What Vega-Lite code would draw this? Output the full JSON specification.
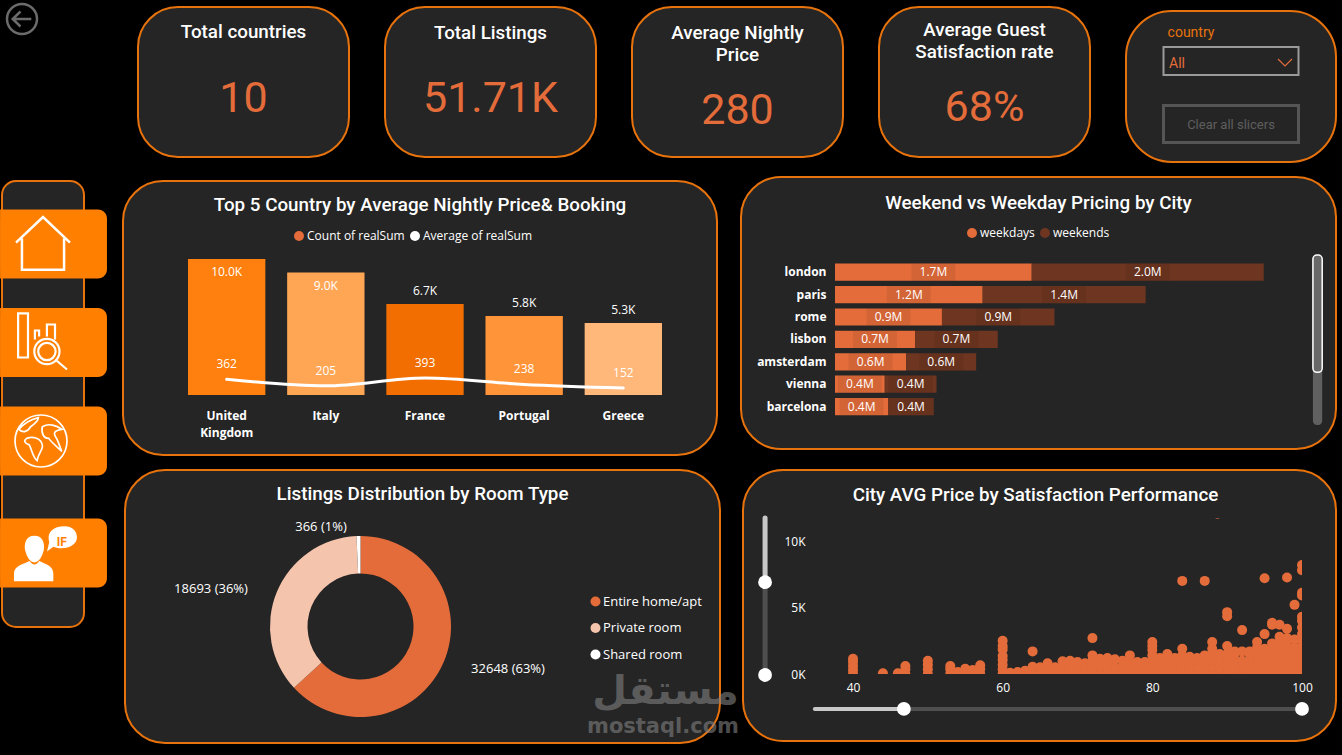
{
"$schema":"https://vega.github.io/schema/vega-lite/v6.json",
"background":"#000000",
"padding":{"left":-1,"top":-1,"right":5,"bottom":11},
"resolve":{"scale":{"color":"independent","fill":"independent"},"legend":{"color":"independent","fill":"independent"}},
"config":{
 "font":"Open Sans",
 "concat":{"spacing":0},
 "title":{"color":"#FFFFFF","font":"Roboto","fontSize":18.8,"fontWeight":500,"anchor":"middle"},
 "axis":{"domain":false,"ticks":false,"grid":false,"title":null,"labelColor":"#FFFFFF","labelFont":"Open Sans","labelFontSize":12,"labelPadding":0},
 "legend":{"title":null,"labelColor":"#FFFFFF","labelFont":"Open Sans","labelFontSize":12,"symbolType":"circle","symbolSize":100,"symbolStrokeWidth":0,"symbolOpacity":1},
 "text":{"color":"#FFFFFF","font":"Open Sans","fontSize":12},
 "view":{"fill":"#252525","stroke":"#E8730C","strokeWidth":2,"cornerRadius":40}
},
"vconcat":[
{"spacing":34,"hconcat":[
 {"width":101,"height":150,"view":{"fill":null,"stroke":null},"data":{"values":[{"icon":"back"}]},
  "mark":{"type":"point","shape":"M1,0A1,1 0 1 1 -1,0A1,1 0 1 1 1,0Z M.62,0H-.62 M-.1,-.5L-.62,0L-.1,.5","size":900,"filled":false,"color":"#6B6B6B","strokeWidth":2.5,"opacity":1,"xOffset":-30.5,"yOffset":-63}},
 {"width":211,"height":150,"data":{"values":[{"metric":"Total countries","value":"10"}]},
  "encoding":{"x":{"datum":0.5,"axis":null,"scale":{"domain":[0,1],"nice":false}},"y":{"datum":0.5,"axis":null,"scale":{"domain":[0,1],"nice":false}}},"layer":[
  {"mark":{"type":"text","font":"Roboto","fontSize":18.8,"fontWeight":500,"dy":-50},"encoding":{"text":{"field":"metric"}}},
  {"mark":{"type":"text","font":"Roboto","fontSize":43,"color":"#E46C3A","dy":17},"encoding":{"text":{"field":"value"}}}]},
 {"width":211,"height":150,"data":{"values":[{"metric":"Total Listings","value":"51.71K"}]},
  "encoding":{"x":{"datum":0.5,"axis":null,"scale":{"domain":[0,1],"nice":false}},"y":{"datum":0.5,"axis":null,"scale":{"domain":[0,1],"nice":false}}},"layer":[
  {"mark":{"type":"text","font":"Roboto","fontSize":18.8,"fontWeight":500,"dy":-49},"encoding":{"text":{"field":"metric"}}},
  {"mark":{"type":"text","font":"Roboto","fontSize":43,"color":"#E46C3A","dy":17},"encoding":{"text":{"field":"value"}}}]},
 {"width":211,"height":150,"data":{"values":[{"metric":"Average Nightly\nPrice","value":"280"}]},
  "encoding":{"x":{"datum":0.5,"axis":null,"scale":{"domain":[0,1],"nice":false}},"y":{"datum":0.5,"axis":null,"scale":{"domain":[0,1],"nice":false}}},"layer":[
  {"mark":{"type":"text","font":"Roboto","fontSize":18.8,"fontWeight":500,"dy":-49,"lineBreak":"\n","lineHeight":22},"encoding":{"text":{"field":"metric"}}},
  {"mark":{"type":"text","font":"Roboto","fontSize":43,"color":"#E46C3A","dy":29},"encoding":{"text":{"field":"value"}}}]},
 {"width":211,"height":150,"data":{"values":[{"metric":"Average Guest\nSatisfaction rate","value":"68%"}]},
  "encoding":{"x":{"datum":0.5,"axis":null,"scale":{"domain":[0,1],"nice":false}},"y":{"datum":0.5,"axis":null,"scale":{"domain":[0,1],"nice":false}}},"layer":[
  {"mark":{"type":"text","font":"Roboto","fontSize":18.8,"fontWeight":500,"dy":-52,"lineBreak":"\n","lineHeight":22},"encoding":{"text":{"field":"metric"}}},
  {"mark":{"type":"text","font":"Roboto","fontSize":43,"color":"#E46C3A","dy":26},"encoding":{"text":{"field":"value"}}}]},
 {"spacing":0,"vconcat":[
  {"width":1,"height":3,"view":{"fill":null,"stroke":null},"data":{"values":[{"gap":1}]},"mark":{"type":"point","size":0,"strokeWidth":0}},
  {"width":210,"height":151,"view":{"cornerRadius":46},"data":{"values":[{"label":"country","selected":"All","button":"Clear all slicers"}]},
   "encoding":{"x":{"datum":0.5,"axis":null,"scale":{"domain":[0,1],"nice":false}},"y":{"datum":0.5,"axis":null,"scale":{"domain":[0,1],"nice":false}}},"layer":[
   {"mark":{"type":"text","font":"Roboto","fontSize":14,"color":"#E8730C","dx":-40,"dy":-54},"encoding":{"text":{"field":"label"}}},
   {"mark":{"type":"point","shape":"M-1,-.207H1V.207H-1Z","size":18225,"filled":false,"color":"#9A9A9A","strokeWidth":2,"opacity":1,"yOffset":-25.5}},
   {"mark":{"type":"text","font":"Roboto","fontSize":14,"color":"#E46C3A","dx":-54,"dy":-23},"encoding":{"text":{"field":"selected"}}},
   {"mark":{"type":"point","shape":"M-1,-.5L0,.5L1,-.5","size":196,"filled":false,"color":"#E46C3A","strokeWidth":1.2,"opacity":1,"xOffset":54,"yOffset":-24}},
   {"mark":{"type":"point","shape":"M-1,-.274H1V.274H-1Z","size":18225,"filled":false,"color":"#555555","strokeWidth":3,"opacity":1,"yOffset":37.5}},
   {"mark":{"type":"text","font":"Roboto","fontSize":13,"color":"#5E5E5E","dy":38},"encoding":{"text":{"field":"button"}}}]}
 ]}
]},
{"width":1,"height":13,"view":{"fill":null,"stroke":null},"data":{"values":[{"gap":1}]},"mark":{"type":"point","size":0,"strokeWidth":0}},
{"spacing":0,"resolve":{"scale":{"color":"independent","fill":"independent"},"legend":{"color":"independent","fill":"independent"}},"hconcat":[
 {"spacing":0,"resolve":{"scale":{"color":"independent","fill":"independent"},"legend":{"color":"independent","fill":"independent"}},"hconcat":[
 {"spacing":0,"vconcat":[
  {"width":1,"height":3,"view":{"fill":null,"stroke":null},"data":{"values":[{"gap":1}]},"mark":{"type":"point","size":0,"strokeWidth":0}},
  {"width":82,"height":446,"view":{"cornerRadius":14},
   "data":{"values":[{"tab":"home"},{"tab":"analysis"},{"tab":"map"},{"tab":"profile"}]},
   "encoding":{"y":{"field":"tab","type":"nominal","axis":null,"sort":null,"scale":{"domain":["home","analysis","map","profile"],"range":[13.75,407.75],"paddingInner":0.3,"paddingOuter":0.15}}},
   "layer":[
    {"transform":[{"filter":"datum.tab !== 'profile'"}],"mark":{"type":"bar","color":"#FF7F00","cornerRadiusTopRight":9,"cornerRadiusBottomRight":9},
     "encoding":{"x":{"datum":1.28,"scale":{"domain":[0,1],"nice":false},"axis":null},"x2":{"datum":-0.024}}},
    {"transform":[{"filter":"datum.tab === 'profile'"}],"mark":{"type":"bar","color":"#FF7F00","cornerRadiusTopRight":9,"cornerRadiusBottomRight":9,"yOffset":13.5},
     "encoding":{"x":{"datum":1.28},"x2":{"datum":-0.024}}},
    {"transform":[{"filter":"datum.tab === 'home'"}],"mark":{"type":"point","shape":"M-1,-.05L0,-1L1,-.05M-.78,-.2V.95H.78V-.2","size":2916,"filled":false,"color":"#FFFFFF","strokeWidth":2.5,"opacity":1},
     "encoding":{"x":{"datum":0.5}}},
    {"transform":[{"filter":"datum.tab === 'analysis'"}],"mark":{"type":"point","shape":"M-.83,-.97H-.5V.5H-.83ZM-.27,-.1V-.4H-.13V-.2M.13,-.2V-.6H.4V-.1M.55,.3A.42,.42 0 1 1 -.29,.3A.42,.42 0 1 1 .55,.3ZM.42,.3A.29,.29 0 1 1 -.16,.3A.29,.29 0 1 1 .42,.3ZM.45,.6L.8,.9","size":3600,"filled":false,"color":"#FFFFFF","strokeWidth":2.2,"opacity":1},
     "encoding":{"x":{"datum":0.5}}},
    {"transform":[{"filter":"datum.tab === 'map'"}],"mark":{"type":"point","shape":"M1,0A1,1 0 1 1 -1,0A1,1 0 1 1 1,0ZM-.55,-.1C-.3,-.2 0,-.1 .05,.15C.1,.3 -.1,.45 -.15,.75C-.3,.65 -.35,.35 -.45,.15C-.6,.1 -.7,0 -.55,-.1ZM-.85,-.45C-.6,-.75 -.3,-.85 -.1,-.9C-.1,-.75 -.25,-.65 -.4,-.55C-.5,-.35 -.7,-.3 -.85,-.45ZM.05,-.55C.3,-.7 .6,-.6 .8,-.45C.5,-.4 .45,-.3 .6,-.1C.7,.1 .75,.3 .8,.4C.6,.2 .4,.05 .3,-.1C.1,-.1 0,-.3 .05,-.55Z","size":2704,"filled":false,"color":"#FFFFFF","strokeWidth":1.7,"opacity":1,"xOffset":-2},
     "encoding":{"x":{"datum":0.5}}},
    {"transform":[{"filter":"datum.tab === 'profile'"}],"mark":{"type":"point","shape":"M-.35,-.55C-.1,-.55 -.02,-.35 -.05,-.1C-.1,.1 -.2,.3 -.35,.3C-.5,.3 -.6,.1 -.65,-.1C-.68,-.35 -.6,-.55 -.35,-.55ZM-1,.9V.65C-1,.4 -.7,.35 -.5,.25C-.4,.4 -.3,.4 -.2,.25C0,.35 .25,.4 .25,.65V.9ZM.6,-.85C.9,-.85 1,-.65 1,-.5C1,-.3 .8,-.15 .5,-.15C.4,-.15 .3,-.18 .25,-.2L.05,-.05L.12,-.35C.1,-.4 .1,-.45 .1,-.5C.1,-.7 .3,-.85 .6,-.85Z","size":3969,"filled":true,"color":"#FFFFFF","strokeWidth":0,"opacity":1,"yOffset":13.5},
     "encoding":{"x":{"datum":0.53}}},
    {"transform":[{"filter":"datum.tab === 'profile'"}],"mark":{"type":"text","text":"IF","font":"Roboto","fontSize":12,"fontWeight":"bold","color":"#FF7F00","dy":2.5},
     "encoding":{"x":{"datum":0.73}}}
   ]}
 ]},
 {"width":14,"height":1,"view":{"fill":null,"stroke":null},"data":{"values":[{"gap":1}]},"mark":{"type":"point","size":0,"strokeWidth":0}},
 {"spacing":0,"resolve":{"scale":{"color":"independent","fill":"independent"},"legend":{"color":"independent","fill":"independent"}},"vconcat":[
  {"width":1,"height":3,"view":{"fill":null,"stroke":null},"data":{"values":[{"gap":1}]},"mark":{"type":"point","size":0,"strokeWidth":0}},
  {"width":594,"height":274,
   "title":{"text":"Top 5 Country by Average Nightly Price& Booking","offset":-34},
   "data":{"values":[
    {"country":"United Kingdom","count":10000,"countLabel":"10.0K","avg":362},
    {"country":"Italy","count":9000,"countLabel":"9.0K","avg":205},
    {"country":"France","count":6700,"countLabel":"6.7K","avg":393},
    {"country":"Portugal","count":5800,"countLabel":"5.8K","avg":238},
    {"country":"Greece","count":5300,"countLabel":"5.3K","avg":152}]},
   "encoding":{"x":{"field":"country","type":"nominal","sort":null,"scale":{"domain":["United Kingdom","Italy","France","Portugal","Greece"],"range":[65,539],"paddingInner":0.22,"paddingOuter":0},
     "axis":{"orient":"bottom","offset":-45,"labelAngle":0,"labelFontWeight":"bold","labelExpr":"split(datum.label,' ')","labelLineHeight":17,"labelBaseline":"top","labelOverlap":false}}},
   "resolve":{"scale":{"y":"independent"}},
   "layer":[
    {"encoding":{"y":{"field":"count","type":"quantitative","axis":null,"scale":{"domain":[0,10000],"range":[214,78],"nice":false}}},
     "layer":[
      {"mark":{"type":"bar"},"encoding":{"color":{"field":"country","legend":null,"sort":null,"scale":{"domain":["United Kingdom","Italy","France","Portugal","Greece"],"range":["#FF800E","#FFA655","#F26E00","#FF9438","#FFB77A"]}}}},
      {"transform":[{"filter":"datum.count >= 9000"}],"mark":{"type":"text","dy":13},"encoding":{"text":{"field":"countLabel"}}},
      {"transform":[{"filter":"datum.count < 9000"}],"mark":{"type":"text","dy":-13},"encoding":{"text":{"field":"countLabel"}}}
     ]},
    {"encoding":{"y":{"field":"avg","type":"quantitative","axis":null,"scale":{"domain":[0,393],"range":[213.3,197],"nice":false}}},
     "layer":[
      {"mark":{"type":"line","color":"#FFFFFF","strokeWidth":3,"interpolate":"monotone","strokeCap":"round"}},
      {"mark":{"type":"text","dy":-15},"encoding":{"text":{"field":"avg"}}}
     ]},
    {"data":{"values":[{"series":"Count of realSum"},{"series":"Average of realSum"}]},
     "mark":{"type":"circle","size":0},
     "encoding":{"fill":{"field":"series","sort":null,"scale":{"domain":["Count of realSum","Average of realSum"],"range":["#E46C3A","#FFFFFF"]},
      "legend":{"orient":"none","legendX":170,"legendY":49,"direction":"horizontal","columnPadding":4,"symbolOffset":0,"labelOffset":2}}}}
   ]},
  {"width":1,"height":13,"view":{"fill":null,"stroke":null},"data":{"values":[{"gap":1}]},"mark":{"type":"point","size":0,"strokeWidth":0}},
  {"spacing":0,"resolve":{"scale":{"color":"independent","fill":"independent"},"legend":{"color":"independent","fill":"independent"}},"hconcat":[
   {"width":1,"height":1,"view":{"fill":null,"stroke":null},"data":{"values":[{"gap":1}]},"mark":{"type":"point","size":0,"strokeWidth":0}},
   {"width":595,"height":273,
    "title":{"text":"Listings Distribution by Room Type","offset":-34},
    "data":{"values":[
     {"room":"Entire home/apt","listings":32648,"label":"32648 (63%)"},
     {"room":"Private room","listings":18693,"label":"18693 (36%)"},
     {"room":"Shared room","listings":366,"label":"366 (1%)"}]},
    "encoding":{"x":{"datum":0.5,"axis":null,"scale":{"domain":[0,1],"nice":false}},"y":{"datum":0.5,"axis":null,"scale":{"domain":[0,1],"nice":false}}},
    "layer":[
     {"mark":{"type":"arc","innerRadius":53,"outerRadius":90.5,"xOffset":-62,"yOffset":20},
      "encoding":{"theta":{"field":"listings","type":"quantitative","stack":true},
       "color":{"field":"room","sort":null,"scale":{"domain":["Entire home/apt","Private room","Shared room"],"range":["#E46C3A","#F5C4AC","#FFFFFF"]},
        "legend":{"orient":"none","legendX":464,"legendY":125,"rowPadding":12.5,"labelFontSize":13,"labelOffset":1}}}},
     {"transform":[{"filter":"datum.room === 'Entire home/apt'"}],"mark":{"type":"text","fontSize":13,"dx":85.5,"dy":62.5},"encoding":{"text":{"field":"label"}}},
     {"transform":[{"filter":"datum.room === 'Private room'"}],"mark":{"type":"text","fontSize":13,"dx":-211.5,"dy":-17.5},"encoding":{"text":{"field":"label"}}},
     {"transform":[{"filter":"datum.room === 'Shared room'"}],"mark":{"type":"text","fontSize":13,"dx":-101.5,"dy":-80},"encoding":{"text":{"field":"label"}}},
     {"data":{"values":[{"mark":"مستقل"}]},"mark":{"type":"text","font":"DejaVu Sans","fontWeight":"bold","fontSize":40,"color":"#808080","opacity":0.6,"dx":243,"dy":85},"encoding":{"text":{"field":"mark"}}},
     {"data":{"values":[{"mark":"mostaql.com"}]},"mark":{"type":"text","font":"DejaVu Sans","fontWeight":"bold","fontSize":21,"color":"#808080","opacity":0.6,"dx":240.5,"dy":120},"encoding":{"text":{"field":"mark"}}}
    ]}
  ]}
 ]}
 ]},
 {"spacing":0,"resolve":{"scale":{"color":"independent","fill":"independent"},"legend":{"color":"independent","fill":"independent"}},"vconcat":[
  {"width":595,"height":272,
   "title":{"text":"Weekend vs Weekday Pricing by City","offset":-36},
   "data":{"values":[
    {"city":"london","type":"weekdays","price":1.696,"label":"1.7M"},{"city":"london","type":"weekends","price":2.0,"label":"2.0M"},
    {"city":"paris","type":"weekdays","price":1.273,"label":"1.2M"},{"city":"paris","type":"weekends","price":1.405,"label":"1.4M"},
    {"city":"rome","type":"weekdays","price":0.922,"label":"0.9M"},{"city":"rome","type":"weekends","price":0.97,"label":"0.9M"},
    {"city":"lisbon","type":"weekdays","price":0.69,"label":"0.7M"},{"city":"lisbon","type":"weekends","price":0.713,"label":"0.7M"},
    {"city":"amsterdam","type":"weekdays","price":0.614,"label":"0.6M"},{"city":"amsterdam","type":"weekends","price":0.603,"label":"0.6M"},
    {"city":"vienna","type":"weekdays","price":0.429,"label":"0.4M"},{"city":"vienna","type":"weekends","price":0.446,"label":"0.4M"},
    {"city":"barcelona","type":"weekdays","price":0.459,"label":"0.4M"},{"city":"barcelona","type":"weekends","price":0.392,"label":"0.4M"}]},
   "resolve":{"scale":{"y":"independent"}},
   "layer":[
    {"transform":[{"stack":"price","groupby":["city"],"sort":[{"field":"type"}],"as":["start","end"]},{"calculate":"(datum.start+datum.end)/2","as":"mid"}],
     "encoding":{"y":{"field":"city","type":"nominal","sort":null,"scale":{"domain":["london","paris","rome","lisbon","amsterdam","vienna","barcelona"],"range":[84,240.8],"paddingInner":0.23,"paddingOuter":0.115},
       "axis":{"orient":"left","offset":-85,"labelFontWeight":"bold"}}},
     "layer":[
      {"mark":{"type":"bar"},"encoding":{"x":{"field":"start","type":"quantitative","axis":null,"scale":{"domain":[0,4],"range":[94,558],"nice":false}},"x2":{"field":"end"},
        "color":{"field":"type","sort":null,"scale":{"domain":["weekdays","weekends"],"range":["#E46C3A","#6E3520"]},
         "legend":{"orient":"none","legendX":225,"legendY":50,"direction":"horizontal","columnPadding":4,"labelOffset":2}}}},
      {"mark":{"type":"point","shape":"M-1,-.386H1V.386H-1Z","size":1936,"filled":true,"color":"#000000","opacity":0.07,"strokeWidth":0},"encoding":{"x":{"field":"mid","type":"quantitative"}}},
      {"mark":{"type":"text","fontSize":12},"encoding":{"x":{"field":"mid","type":"quantitative"},"text":{"field":"label"}}}
     ]},
    {"data":{"values":[{"part":"scrollbar"}]},"mark":{"type":"bar","color":"#606060","cornerRadius":4},
     "encoding":{"x":{"datum":4.12},"x2":{"datum":4.2},"y":{"datum":0,"type":"quantitative","axis":null,"scale":{"domain":[0,1],"range":[78,248],"nice":false}},"y2":{"datum":1}}},
    {"data":{"values":[{"part":"thumb"}]},"mark":{"type":"bar","color":"#686868","stroke":"#FFFFFF","strokeWidth":1.5,"cornerRadius":4},
     "encoding":{"x":{"datum":4.12},"x2":{"datum":4.2},"y":{"datum":0,"type":"quantitative","axis":null,"scale":{"domain":[0,1],"range":[78,248],"nice":false}},"y2":{"datum":0.69}}}
   ]},
  {"width":1,"height":19,"view":{"fill":null,"stroke":null},"data":{"values":[{"gap":1}]},"mark":{"type":"point","size":0,"strokeWidth":0}},
  {"spacing":0,"resolve":{"scale":{"color":"independent","fill":"independent"},"legend":{"color":"independent","fill":"independent"}},"hconcat":[
   {"width":1,"height":1,"view":{"fill":null,"stroke":null},"data":{"values":[{"gap":1}]},"mark":{"type":"point","size":0,"strokeWidth":0}},
   {"width":593,"height":271,
    "title":{"text":"City AVG Price by Satisfaction Performance","offset":-35,"dx":-4},
    "layer":[
     {"data":{"values":[
{"rating":40,"price":0},{"rating":40,"price":300},{"rating":40,"price":600},{"rating":40,"price":900},{"rating":40,"price":1150},
{"rating":44,"price":50},{"rating":46,"price":50},{"rating":47,"price":0},{"rating":47,"price":350},{"rating":47,"price":600},
{"rating":50,"price":0},{"rating":50,"price":350},{"rating":50,"price":700},{"rating":50,"price":1000},
{"rating":53,"price":0},{"rating":53,"price":350},{"rating":53,"price":600},{"rating":54,"price":150},
{"rating":55,"price":0},{"rating":55,"price":400},{"rating":56,"price":0},{"rating":56,"price":300},
{"rating":57,"price":0},{"rating":57,"price":350},{"rating":57,"price":650},
{"rating":60,"price":0},{"rating":60,"price":350},{"rating":60,"price":700},{"rating":60,"price":1050},{"rating":60,"price":1350},{"rating":60,"price":1850},{"rating":60,"price":2100},{"rating":60,"price":2500},
{"rating":61,"price":100},{"rating":62,"price":150},{"rating":63,"price":250},{"rating":64,"price":0},{"rating":64,"price":550},{"rating":64,"price":1700},
{"rating":65,"price":0},{"rating":65,"price":500},{"rating":66,"price":0},{"rating":66,"price":400},{"rating":66,"price":800},
{"rating":67,"price":0},{"rating":67,"price":500},{"rating":68,"price":0},{"rating":68,"price":500},{"rating":68,"price":950},
{"rating":69,"price":0},{"rating":69,"price":500},{"rating":69,"price":1000},{"rating":70,"price":0},{"rating":70,"price":500},{"rating":70,"price":900},
{"rating":71,"price":0},{"rating":71,"price":500},{"rating":71,"price":800},{"rating":72,"price":0},{"rating":72,"price":500},{"rating":72,"price":1000},{"rating":72,"price":1400},{"rating":72,"price":2700},
{"rating":73,"price":0},{"rating":73,"price":500},{"rating":73,"price":1150},{"rating":73,"price":800},{"rating":74,"price":0},{"rating":74,"price":500},{"rating":74,"price":900},{"rating":74,"price":1200},
{"rating":75,"price":0},{"rating":75,"price":500},{"rating":75,"price":1100},{"rating":76,"price":0},{"rating":76,"price":500},{"rating":76,"price":1000},
{"rating":77,"price":0},{"rating":77,"price":500},{"rating":77,"price":900},{"rating":77,"price":1400},{"rating":78,"price":0},{"rating":78,"price":500},{"rating":78,"price":900},
{"rating":79,"price":0},{"rating":79,"price":500},{"rating":79,"price":900},{"rating":80,"price":0},{"rating":80,"price":500},{"rating":80,"price":1000},{"rating":80,"price":1400},{"rating":80,"price":1800},{"rating":80,"price":2100},{"rating":80,"price":2400},
{"rating":81,"price":0},{"rating":81,"price":500},{"rating":81,"price":1200},{"rating":81,"price":900},{"rating":82,"price":0},{"rating":82,"price":500},{"rating":82,"price":1000},{"rating":82,"price":1500},
{"rating":83,"price":0},{"rating":83,"price":500},{"rating":83,"price":1200},{"rating":83,"price":900},{"rating":84,"price":0},{"rating":84,"price":500},{"rating":84,"price":1000},{"rating":84,"price":1400},{"rating":84,"price":1900},{"rating":84,"price":7000},
{"rating":85,"price":0},{"rating":85,"price":500},{"rating":85,"price":1000},{"rating":85,"price":1300},{"rating":86,"price":0},{"rating":86,"price":500},{"rating":86,"price":1000},{"rating":86,"price":1200},
{"rating":87,"price":0},{"rating":87,"price":500},{"rating":87,"price":1000},{"rating":87,"price":1400},{"rating":87,"price":7000},{"rating":88,"price":0},{"rating":88,"price":500},{"rating":88,"price":1000},{"rating":88,"price":1500},{"rating":88,"price":1900},{"rating":88,"price":2400},
{"rating":88.7,"price":12050},{"rating":89,"price":0},{"rating":89,"price":500},{"rating":89,"price":1000},{"rating":89,"price":1500},
{"rating":90,"price":0},{"rating":90,"price":500},{"rating":90,"price":1000},{"rating":90,"price":1500},{"rating":90,"price":2100},{"rating":90,"price":4350},{"rating":90,"price":4650},
{"rating":91,"price":0},{"rating":91,"price":500},{"rating":91,"price":1000},{"rating":91,"price":1500},{"rating":91,"price":1700},{"rating":92,"price":0},{"rating":92,"price":500},{"rating":92,"price":1000},{"rating":92,"price":1700},{"rating":92,"price":3300},
{"rating":93,"price":0},{"rating":93,"price":500},{"rating":93,"price":1000},{"rating":93,"price":1500},{"rating":93,"price":1700},{"rating":94,"price":0},{"rating":94,"price":500},{"rating":94,"price":1000},{"rating":94,"price":1500},{"rating":94,"price":2000},{"rating":94,"price":2400},
{"rating":95,"price":0},{"rating":95,"price":500},{"rating":95,"price":1000},{"rating":95,"price":1500},{"rating":95,"price":1900},{"rating":95,"price":3000},{"rating":95,"price":7200},
{"rating":96,"price":0},{"rating":96,"price":500},{"rating":96,"price":1000},{"rating":96,"price":1500},{"rating":96,"price":2000},{"rating":96,"price":2300},{"rating":96,"price":3700},{"rating":96,"price":3850},
{"rating":97,"price":0},{"rating":97,"price":500},{"rating":97,"price":1000},{"rating":97,"price":1500},{"rating":97,"price":2000},{"rating":97,"price":2800},{"rating":97,"price":2400},{"rating":97,"price":3700},
{"rating":98,"price":0},{"rating":98,"price":500},{"rating":98,"price":1000},{"rating":98,"price":1500},{"rating":98,"price":2000},{"rating":98,"price":2500},{"rating":98,"price":2700},{"rating":98,"price":3400},{"rating":98,"price":7250},
{"rating":99,"price":0},{"rating":99,"price":500},{"rating":99,"price":1000},{"rating":99,"price":1500},{"rating":99,"price":2000},{"rating":99,"price":2600},{"rating":99,"price":5200},
{"rating":100,"price":0},{"rating":100,"price":500},{"rating":100,"price":1000},{"rating":100,"price":1500},{"rating":100,"price":2000},{"rating":100,"price":2500},{"rating":100,"price":3000},{"rating":100,"price":3500},{"rating":100,"price":4000},{"rating":100,"price":4300},{"rating":100,"price":5900},{"rating":100,"price":6100},{"rating":100,"price":7800},{"rating":100,"price":8200}
      ]},
      "mark":{"type":"circle","size":100,"color":"#E46C3A","opacity":1},
      "encoding":{"x":{"field":"rating","type":"quantitative","scale":{"domain":[40,100],"range":[110,559],"nice":false,"zero":false},
        "axis":{"orient":"bottom","offset":-67,"values":[40,60,80,100],"labelPadding":8,"labelFlush":false}},
       "y":{"field":"price","type":"quantitative","scale":{"domain":[0,10000],"range":[204,71],"nice":false,"zero":false},
        "axis":{"orient":"left","offset":-62,"values":[0,5000,10000],"labelFlush":false,"labelExpr":"datum.value/1000+'K'"}}}},
     {"data":{"values":[{"part":"cover"}]},"mark":{"type":"rect","color":"#252525"},"encoding":{"x":{"datum":100},"x2":{"datum":101},"y":{"datum":-450},"y2":{"datum":11000}}},
     {"data":{"values":[{"part":"cover"}]},"mark":{"type":"rect","color":"#252525"},"encoding":{"x":{"datum":35},"x2":{"datum":101},"y":{"datum":-450},"y2":{"datum":0}}},
     {"data":{"values":[{"part":"cover"}]},"mark":{"type":"rect","color":"#252525"},"encoding":{"x":{"datum":80},"x2":{"datum":95},"y":{"datum":11730},"y2":{"datum":12700}}},
     {"data":{"values":[{"from":34.9,"to":46.8,"state":"on"},{"from":46.8,"to":100,"state":"off"}]},"mark":{"type":"rule","strokeWidth":4,"strokeCap":"round"},
      "encoding":{"x":{"field":"from","type":"quantitative"},"x2":{"field":"to"},"y":{"datum":-2630},"color":{"field":"state","legend":null,"scale":{"domain":["on","off"],"range":["#C8C8C8","#4F4F4F"]}}}},
     {"data":{"values":[{"from":11730,"to":6900,"state":"on"},{"from":6900,"to":-75,"state":"off"}]},"mark":{"type":"rule","strokeWidth":5,"strokeCap":"round"},
      "encoding":{"y":{"field":"from","type":"quantitative"},"y2":{"field":"to"},"x":{"datum":28.25},"color":{"field":"state","legend":null}}},
     {"data":{"values":[{"rating":46.8,"price":-2630},{"rating":100,"price":-2630},{"rating":28.25,"price":6900},{"rating":28.25,"price":-75}]},
      "mark":{"type":"circle","size":190,"color":"#FFFFFF","opacity":1},
      "encoding":{"x":{"field":"rating","type":"quantitative"},"y":{"field":"price","type":"quantitative"}}}
    ]}
  ]}
 ]}
]}
]}
